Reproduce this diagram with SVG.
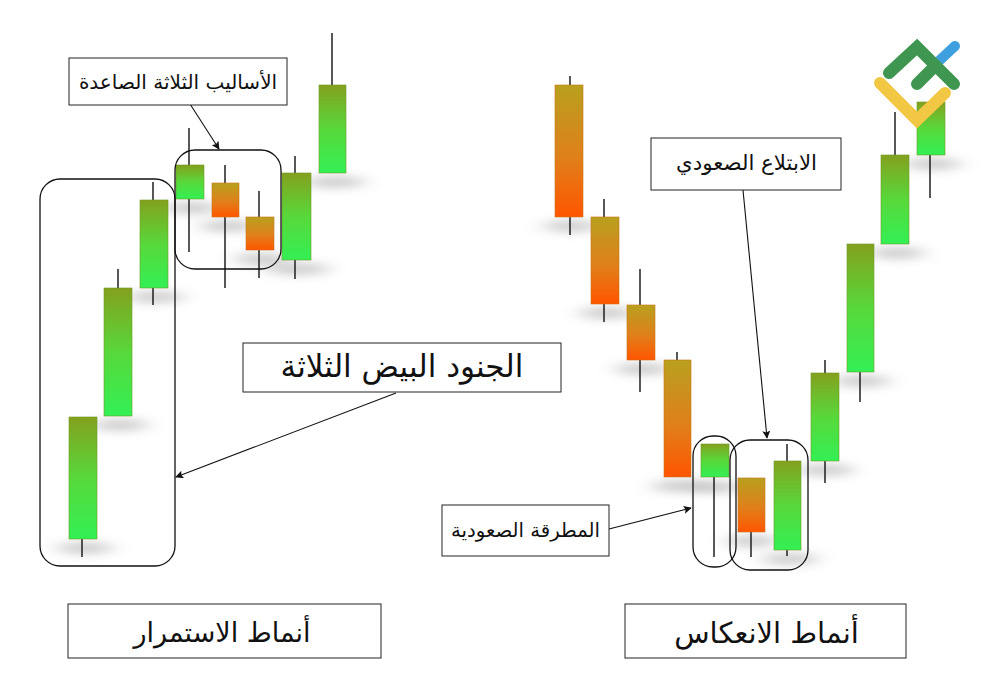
<svg xmlns="http://www.w3.org/2000/svg" width="1000" height="682" viewBox="0 0 1000 682">
<style>
.box{fill:#fff;stroke:#222;stroke-width:1}
.lab{font-family:"DejaVu Sans","Noto Sans",sans-serif;fill:#111;text-anchor:middle;direction:rtl}
.wick{stroke:#111;stroke-width:1.4;fill:none}
.up{fill:url(#gu);stroke:#6f9a22;stroke-width:.6}
.dn{fill:url(#gd);stroke:#c8761a;stroke-width:.6}
.frame{fill:none;stroke:#111;stroke-width:1.3}
.conn{stroke:#111;stroke-width:1.1;fill:none;marker-end:url(#ah)}
.sh{fill:#888;opacity:.42;filter:url(#bl)}
</style>
<defs>
<linearGradient id="gu" x1="0" y1="0" x2="0" y2="1"><stop offset="0" stop-color="#84a01e"/><stop offset=".5" stop-color="#58d83a"/><stop offset="1" stop-color="#33f055"/></linearGradient>
<linearGradient id="gd" x1="0" y1="0" x2="0" y2="1"><stop offset="0" stop-color="#b8a01e"/><stop offset=".55" stop-color="#e0801a"/><stop offset="1" stop-color="#ff5500"/></linearGradient>
<filter id="bl" x="-60%" y="-250%" width="220%" height="600%"><feGaussianBlur stdDeviation="10 5"/></filter>
<marker id="ah" viewBox="0 0 10 10" refX="9" refY="5" markerWidth="8" markerHeight="8" markerUnits="userSpaceOnUse" orient="auto"><path d="M0 0L10 5L0 10L2 5Z" fill="#111"/></marker>
</defs>
<rect width="1000" height="682" fill="#fff"/>
<g id="shadows">
<ellipse class="sh" cx="85" cy="548" rx="28" ry="6"/>
<ellipse class="sh" cx="120" cy="425" rx="28" ry="6"/>
<ellipse class="sh" cx="156" cy="297" rx="28" ry="6"/>
<ellipse class="sh" cx="192" cy="208" rx="28" ry="6"/>
<ellipse class="sh" cx="228" cy="226" rx="28" ry="6"/>
<ellipse class="sh" cx="262" cy="259" rx="28" ry="6"/>
<ellipse class="sh" cx="298" cy="269" rx="32" ry="6"/>
<ellipse class="sh" cx="335" cy="182" rx="30" ry="6"/>
<ellipse class="sh" cx="571" cy="226" rx="28" ry="6"/>
<ellipse class="sh" cx="607" cy="313" rx="28" ry="6"/>
<ellipse class="sh" cx="643" cy="369" rx="28" ry="6"/>
<ellipse class="sh" cx="680" cy="486" rx="28" ry="6"/>
<ellipse class="sh" cx="716" cy="487" rx="26" ry="6"/>
<ellipse class="sh" cx="752" cy="541" rx="26" ry="6"/>
<ellipse class="sh" cx="790" cy="559" rx="28" ry="6"/>
<ellipse class="sh" cx="826" cy="470" rx="28" ry="6"/>
<ellipse class="sh" cx="862" cy="381" rx="28" ry="6"/>
<ellipse class="sh" cx="897" cy="253" rx="28" ry="6"/>
<ellipse class="sh" cx="933" cy="164" rx="28" ry="6"/>
</g>
<g id="c1"><path class="wick" d="M82 539V557"/><rect class="up" x="69" y="417" width="28" height="122"/></g>
<g id="c2"><path class="wick" d="M118 269V288"/><rect class="up" x="104" y="288" width="28" height="128"/></g>
<g id="c3"><path class="wick" d="M153 182V305"/><rect class="up" x="140" y="200" width="28" height="88"/></g>
<g id="c4"><path class="wick" d="M189 128V252"/><rect class="up" x="176" y="165" width="28" height="34"/></g>
<g id="c5"><path class="wick" d="M225 165V288"/><rect class="dn" x="212" y="183" width="27" height="34"/></g>
<g id="c6"><path class="wick" d="M259 191V278"/><rect class="dn" x="246" y="217" width="28" height="33"/></g>
<g id="c7"><path class="wick" d="M295 156V279"/><rect class="up" x="282" y="173" width="29" height="87"/></g>
<g id="c8"><path class="wick" d="M332 33V85"/><rect class="up" x="319" y="85" width="27" height="88"/></g>
<g id="r1"><path class="wick" d="M570 76V235"/><rect class="dn" x="555" y="85" width="28" height="132"/></g>
<g id="r2"><path class="wick" d="M604 199V322"/><rect class="dn" x="591" y="217" width="28" height="87"/></g>
<g id="r3"><path class="wick" d="M640 269V392"/><rect class="dn" x="627" y="305" width="28" height="55"/></g>
<g id="r4"><path class="wick" d="M677 352V477"/><rect class="dn" x="664" y="360" width="27" height="117"/></g>
<g id="r5"><path class="wick" d="M714 477V557"/><rect class="up" x="701" y="444" width="28" height="33"/></g>
<g id="r6"><path class="wick" d="M751 532V557"/><rect class="dn" x="738" y="478" width="27" height="54"/></g>
<g id="r7"><path class="wick" d="M787 444V556"/><rect class="up" x="774" y="461" width="27" height="89"/></g>
<g id="r8"><path class="wick" d="M825 360V483"/><rect class="up" x="811" y="373" width="28" height="88"/></g>
<g id="r9"><path class="wick" d="M860 372V402"/><rect class="up" x="847" y="244" width="27" height="128"/></g>
<g id="r10"><path class="wick" d="M895 112V155"/><rect class="up" x="881" y="155" width="28" height="89"/></g>
<g id="r11"><path class="wick" d="M930 155V198"/><rect class="up" x="917" y="102" width="28" height="53"/></g>
<g id="frames">
<rect class="frame" x="40" y="179" width="135" height="387" rx="20"/>
<rect class="frame" x="175" y="150" width="106" height="119" rx="20"/>
<rect class="frame" x="693" y="436" width="43" height="131" rx="20"/>
<rect class="frame" x="730" y="440" width="78" height="130" rx="20"/>
</g>
<g id="connectors">
<path class="conn" d="M190 104L219 149"/>
<path class="conn" d="M396 393L176 477"/>
<path class="conn" d="M743 190L767 438"/>
<path class="conn" d="M609 529L691 508"/>
</g>
<g id="n1"><rect class="box" x="69" y="58" width="218" height="47"/><text class="lab" x="178" y="89" font-size="20">الأساليب الثلاثة الصاعدة</text></g>
<g id="n2"><rect class="box" x="243" y="343" width="318" height="49"/><text class="lab" x="402" y="377" font-size="31">الجنود البيض الثلاثة</text></g>
<g id="n3"><rect class="box" x="651" y="138" width="190" height="52"/><text class="lab" x="746.500" y="170" font-size="21.300">الابتلاع الصعودي</text></g>
<g id="n4"><rect class="box" x="442" y="505" width="167" height="51"/><text class="lab" x="525.500" y="537" font-size="19.700">المطرقة الصعودية</text></g>
<g id="n5"><rect class="box" x="68" y="604" width="313" height="54"/><text class="lab" x="222" y="642" font-size="27">أنماط الاستمرار</text></g>
<g id="n6"><rect class="box" x="625" y="604" width="281" height="54"/><text class="lab" x="766.500" y="643" font-size="29">أنماط الانعكاس</text></g>
<g id="logo" fill="none" stroke-linecap="round" stroke-width="12">
<path d="M940 60L955 46" stroke="#3fa0e0" stroke-width="10"/>
<path d="M889 73L917 47L954 84M917 84L934 67" stroke="#3f9650"/>
<path d="M880 83L917 120L945 93" stroke="#f2c744"/>
</g>
</svg>
